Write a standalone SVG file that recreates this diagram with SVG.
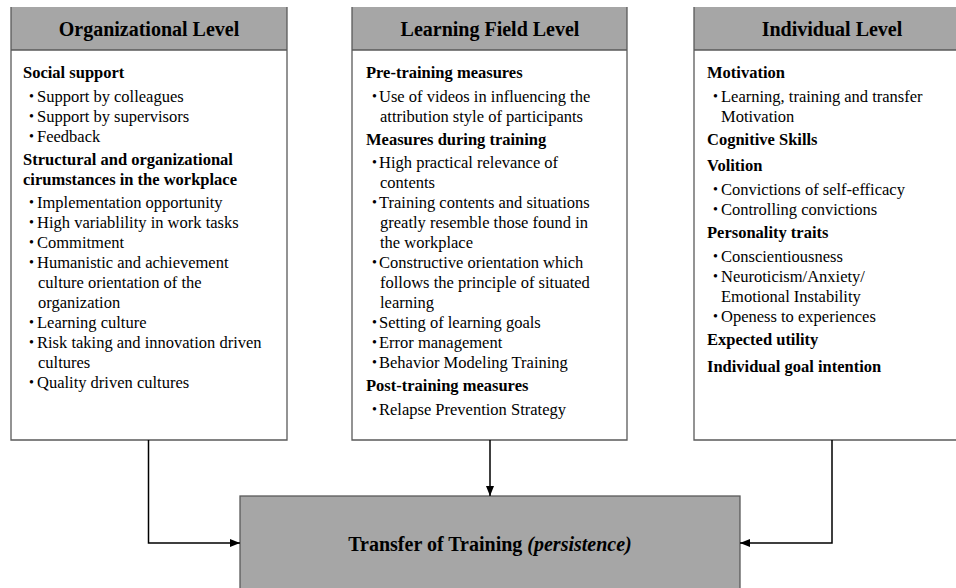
<svg xmlns="http://www.w3.org/2000/svg" width="956" height="588" viewBox="0 0 956 588">
<style>
.hdr{fill:#a6a6a6;stroke:none}
.body{fill:#ffffff;stroke:none}
.frame{fill:none;stroke:#5a5a5a;stroke-width:1.3}
.title{font-family:"Liberation Serif","Times New Roman",serif;font-size:20px;font-weight:bold;fill:#000;text-anchor:middle}
.h{font-family:"Liberation Serif","Times New Roman",serif;font-size:16.5px;font-weight:bold;fill:#000}
.t{font-family:"Liberation Serif","Times New Roman",serif;font-size:16.5px;fill:#000}
.b{font-family:"Liberation Serif","Times New Roman",serif;font-size:14px;fill:#000}
.conn{fill:none;stroke:#000;stroke-width:1.5}
</style>
<defs>
<marker id="arr" markerWidth="10" markerHeight="8" refX="10" refY="4" orient="auto" markerUnits="userSpaceOnUse">
<path d="M0,0 L10,4 L0,8 Z" fill="#000"/>
</marker>
</defs>
<rect width="956" height="588" fill="#ffffff"/>

<g id="organizational">
<rect class="hdr" x="11" y="7" width="276" height="43"/>
<rect class="body" x="11" y="50" width="276" height="390"/>
<path class="frame" d="M11,7 V440 H287 V7 M11,50 H287"/>
<text class="title" x="149" y="36">Organizational Level</text>
<text class="h" x="23" y="78">Social support</text>
<text class="b" x="29" y="101">•</text><text class="t" x="37" y="102">Support by colleagues</text>
<text class="b" x="29" y="121">•</text><text class="t" x="37" y="122">Support by supervisors</text>
<text class="b" x="29" y="141">•</text><text class="t" x="37" y="142">Feedback</text>
<text class="h" x="23" y="165">Structural and organizational</text>
<text class="h" x="23" y="185">cirumstances in the workplace</text>
<text class="b" x="29" y="207">•</text><text class="t" x="37" y="208">Implementation opportunity</text>
<text class="b" x="29" y="227">•</text><text class="t" x="37" y="228">High variablility in work tasks</text>
<text class="b" x="29" y="247">•</text><text class="t" x="37" y="248">Commitment</text>
<text class="b" x="29" y="267">•</text><text class="t" x="37" y="268">Humanistic and achievement</text>
<text class="t" x="38" y="288">culture orientation of the</text>
<text class="t" x="38" y="308">organization</text>
<text class="b" x="29" y="327">•</text><text class="t" x="37" y="328">Learning culture</text>
<text class="b" x="29" y="347">•</text><text class="t" x="37" y="348">Risk taking and innovation driven</text>
<text class="t" x="38" y="368">cultures</text>
<text class="b" x="29" y="387">•</text><text class="t" x="37" y="388">Quality driven cultures</text>
</g>

<g id="learningfield">
<rect class="hdr" x="352" y="7" width="275" height="43"/>
<rect class="body" x="352" y="50" width="275" height="390"/>
<path class="frame" d="M352,7 V440 H627 V7 M352,50 H627"/>
<text class="title" x="490" y="36">Learning Field Level</text>
<text class="h" x="366" y="78">Pre-training measures</text>
<text class="b" x="372" y="101">•</text><text class="t" x="379" y="102">Use of videos in influencing the</text>
<text class="t" x="380" y="122">attribution style of participants</text>
<text class="h" x="366" y="145">Measures during training</text>
<text class="b" x="372" y="167">•</text><text class="t" x="379" y="168">High practical relevance of</text>
<text class="t" x="380" y="188">contents</text>
<text class="b" x="372" y="207">•</text><text class="t" x="379" y="208">Training contents and situations</text>
<text class="t" x="380" y="228">greatly resemble those found in</text>
<text class="t" x="380" y="248">the workplace</text>
<text class="b" x="372" y="267">•</text><text class="t" x="379" y="268">Constructive orientation which</text>
<text class="t" x="380" y="288">follows the principle of situated</text>
<text class="t" x="380" y="308">learning</text>
<text class="b" x="372" y="327">•</text><text class="t" x="379" y="328">Setting of learning goals</text>
<text class="b" x="372" y="347">•</text><text class="t" x="379" y="348">Error management</text>
<text class="b" x="372" y="367">•</text><text class="t" x="379" y="368">Behavior Modeling Training</text>
<text class="h" x="366" y="391">Post-training measures</text>
<text class="b" x="372" y="414">•</text><text class="t" x="379" y="415">Relapse Prevention Strategy</text>
</g>

<g id="individual">
<rect class="hdr" x="694" y="7" width="276" height="43"/>
<rect class="body" x="694" y="50" width="276" height="390"/>
<path class="frame" d="M694,7 V440 H970 V7 M694,50 H970"/>
<text class="title" x="832" y="36">Individual Level</text>
<text class="h" x="707" y="78">Motivation</text>
<text class="b" x="713" y="101">•</text><text class="t" x="721" y="102">Learning, training and transfer</text>
<text class="t" x="721" y="122">Motivation</text>
<text class="h" x="707" y="145">Cognitive Skills</text>
<text class="h" x="707" y="171">Volition</text>
<text class="b" x="713" y="194">•</text><text class="t" x="721" y="195">Convictions of self-efficacy</text>
<text class="b" x="713" y="214">•</text><text class="t" x="721" y="215">Controlling convictions</text>
<text class="h" x="707" y="238">Personality traits</text>
<text class="b" x="713" y="261">•</text><text class="t" x="721" y="262">Conscientiousness</text>
<text class="b" x="713" y="281">•</text><text class="t" x="721" y="282">Neuroticism/Anxiety/</text>
<text class="t" x="721" y="302">Emotional Instability</text>
<text class="b" x="713" y="321">•</text><text class="t" x="721" y="322">Openess to experiences</text>
<text class="h" x="707" y="345">Expected utility</text>
<text class="h" x="707" y="372">Individual goal intention</text>
</g>

<g id="transfer">
<rect x="240" y="496" width="500" height="100" fill="#a6a6a6" stroke="#5a5a5a" stroke-width="1.3"/>
<text class="title" x="490" y="551">Transfer of Training <tspan font-style="italic" font-weight="bold">(persistence)</tspan></text>
</g>

<g id="connectors">
<path class="conn" d="M148.5,440 V543 H240" marker-end="url(#arr)"/>
<path class="conn" d="M490,440 V496" marker-end="url(#arr)"/>
<path class="conn" d="M832,440 V543 H740" marker-end="url(#arr)"/>
</g>
</svg>
